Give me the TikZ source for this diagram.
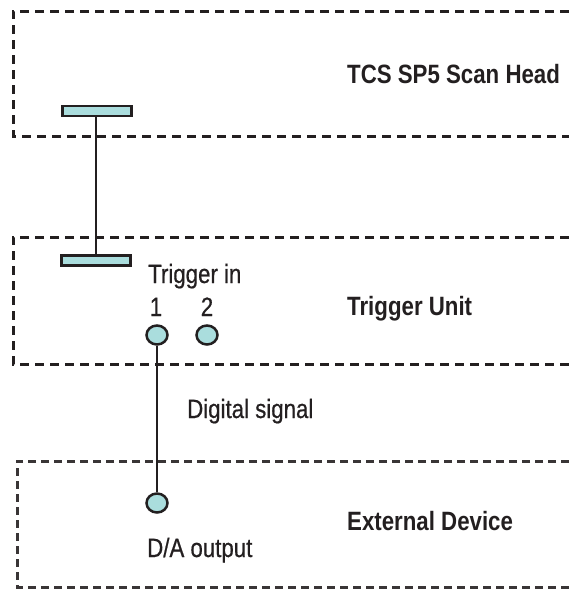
\documentclass[tikz,border=0pt]{standalone}
\usepackage{fontspec}
\setmainfont{Liberation Sans}[FakeStretch=0.84]
\newfontfamily\lblfont{Liberation Sans}[FakeStretch=0.84, FakeBold=0.6]
\definecolor{linecol}{HTML}{231F20}
\definecolor{fillcol}{HTML}{AADDDD}
\tikzset{
  zone/.style={draw=linecol, line width=3pt, dash pattern=on 9pt off 6pt},
  zonelight/.style={draw=linecol!90, line width=3pt, dash pattern=on 8pt off 5pt},
  bar/.style={draw=linecol, fill=fillcol, line width=2.6pt, rectangle, inner sep=0pt, minimum width=69pt, minimum height=10pt},
  port/.style={draw=linecol, fill=fillcol, line width=2.5pt, ellipse, inner sep=0pt, minimum width=21pt, minimum height=19pt},
  wire/.style={draw=linecol, line width=2.5pt},
  lbl/.style={anchor=base west, inner sep=0pt, text=linecol, font=\lblfont\fontsize{26.5}{30}\selectfont},
  title/.style={anchor=base west, inner sep=0pt, text=linecol, font=\fontsize{26.5}{30}\selectfont\bfseries}
}
\usetikzlibrary{shapes.geometric}
\begin{document}
\begin{tikzpicture}[x=1pt, y=-1pt]
\useasboundingbox (0,0) rectangle (569,589);
% zones
\draw[zone] (569,11) -- (13,11) -- (13,136) -- (569,136);
\draw[zone] (569,237) -- (13,237) -- (13,364) -- (569,364);
\draw[zonelight] (569,461) -- (17,461) -- (17,587) -- (569,587);
% bars
\node[bar] (bar1) at (97,111) {};
\node[bar] (bar2) at (96,260.5) {};
\draw[wire] (bar1.south -| 96,0) -- (bar2.north -| 96,0);
% ports
\node[port] (p1) at (157,335) {};
\node[port] (p2) at (207,335) {};
\node[port] (p3) at (157,503) {};
\draw[wire] (p1.south) -- (p3.north);
% labels
\node[title] (t1) at (347,83) {TCS SP5 Scan Head};
\node[title] (t2) at (347,315) {Trigger Unit};
\node[title] (t3) at (347,530) {External Device};
\node[lbl] (trin) at (148,283) {Trigger in};
\node[lbl, anchor=base] (n1) at (156,316) {1};
\node[lbl, anchor=base] (n2) at (207,316) {2};
\node[lbl] (dig) at (187,418) {Digital signal};
\node[lbl] (da) at (147,557) {D/A output};
\end{tikzpicture}
\end{document}
